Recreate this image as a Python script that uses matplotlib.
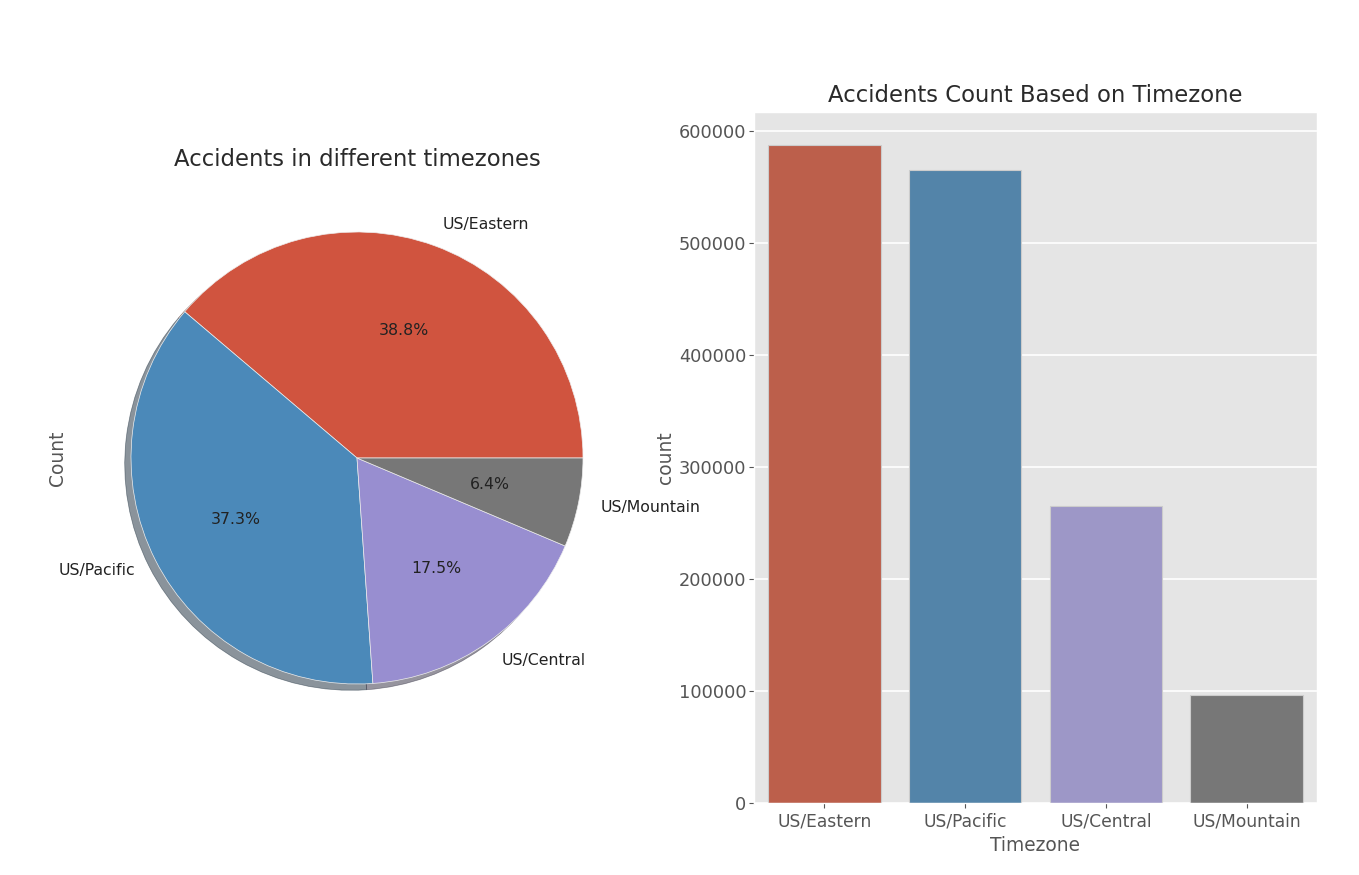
import matplotlib
matplotlib.use("Agg")
import matplotlib.pyplot as plt

plt.style.use("ggplot")
plt.rcParams["font.family"] = ["DejaVu Sans"]
plt.rcParams["font.size"] = 13

timezones = ["US/Eastern", "US/Pacific", "US/Central", "US/Mountain"]
counts = [587500, 565200, 265200, 96400]
pie_colors = ["#D0543F", "#4B89B9", "#988ED0", "#777777"]
bar_colors = ["#BC5F4B", "#5384A9", "#9D97C7", "#777777"]
yticks = [0, 100000, 200000, 300000, 400000, 500000, 600000]

W, H = 1359, 875
fig = plt.figure(figsize=(W / 100, H / 100), dpi=100)

# Pie chart
ax1 = fig.add_axes([74.5 / W, 72 / H, 565 / W, 690 / H])
ax1.pie(counts, labels=timezones, colors=pie_colors, autopct="%1.1f%%",
        shadow=True, startangle=0,
        wedgeprops=dict(edgecolor="#EEEEEE", linewidth=0.5),
        textprops=dict(fontsize=11.3, color="#222222"))
ax1.set_title("Accidents in different timezones", fontsize=16.4, color="#2A2A2A", pad=7)
ax1.set_ylabel("Count", fontsize=13.4, color="#555555")
ax1.yaxis.set_label_coords(-0.013, 0.5)
ax1.set_facecolor("white")

# Bar chart
ax2 = fig.add_axes([754 / W, 72 / H, 563 / W, 691 / H])
x = range(len(timezones))
ax2.bar(x, counts, width=0.8, color=bar_colors, edgecolor="#CCCCCC", linewidth=0.8)
ax2.set_xlim(-0.5, len(timezones) - 0.5)
ax2.set_xticks(list(x))
ax2.set_xticklabels(timezones, fontsize=12.3)
ax2.set_yticks(yticks)
ax2.set_yticklabels([str(v) for v in yticks], fontsize=12.8)
ax2.tick_params(axis="y", pad=2)
ax2.set_ylim(0, max(counts) * 1.05)
ax2.grid(axis="x", visible=False)
ax2.grid(axis="y", color="white", linewidth=1.2)
ax2.set_xlabel("Timezone", fontsize=13.4, color="#555555", labelpad=4)
ax2.set_ylabel("count", fontsize=13.4, color="#555555", labelpad=3)
ax2.set_title("Accidents Count Based on Timezone", fontsize=16.4, color="#2A2A2A", pad=7)

fig.savefig("out.png", dpi=100, facecolor="white")
